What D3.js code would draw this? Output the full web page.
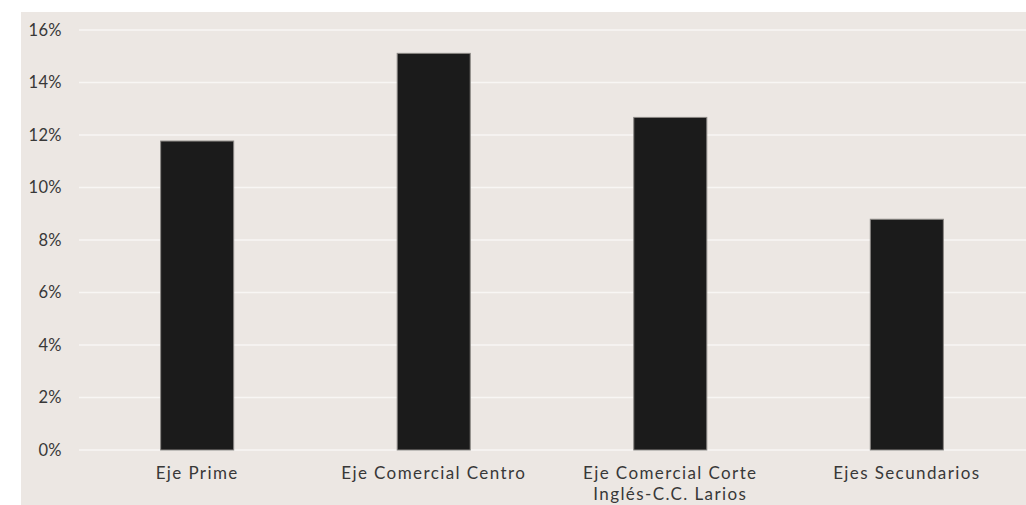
<!DOCTYPE html>
<meta charset="UTF-8">
<script src="https://cdn.jsdelivr.net/npm/d3@7"></script>
<style>
 body { margin:0; background:#fff; }
 #chart text { font-family:Lato, sans-serif; fill:#383838; }
 .grid line { stroke:#f8f6f4; stroke-width:1.5px; }
 .bar { fill:#1b1b1b; stroke:#8a8784; stroke-width:1px; }
</style>
<svg id="chart"></svg>
<script>
 // Datos
 var categorias = [["Eje Prime"], ["Eje Comercial Centro"], ["Eje Comercial Corte", "Inglés-C.C. Larios"], ["Ejes Secundarios"]];
 var valores = [0.1177, 0.1511, 0.1267, 0.0879];
 var ticks = [0, 0.02, 0.04, 0.06, 0.08, 0.10, 0.12, 0.14, 0.16];

 var width = 1026, height = 505;
 var m = {left:79, right:1, top:30, bottom:55};

 var svg = d3.select("#chart").attr("width", width).attr("height", height);

 // panel de fondo
 svg.append("rect").attr("x", 21).attr("y", 12)
    .attr("width", width-21).attr("height", height-12)
    .attr("fill", "#ece7e3");

 var x = d3.scaleBand()
	   .domain(d3.range(categorias.length))
	   .range([m.left, width-m.right])
	   .paddingInner(0.687).paddingOuter(0.343);
 var y = d3.scaleLinear().domain([0, 0.16]).range([height-m.bottom, m.top]);

 // líneas de cuadrícula
 svg.append("g").attr("class", "grid")
    .selectAll("line").data(ticks).enter().append("line")
    .attr("x1", m.left).attr("x2", width)
    .attr("y1", function (d){ return y(d); }).attr("y2", function (d){ return y(d); });

 // eje Y
 var yaxis = svg.append("g")
		.attr("transform", "translate(62,0)")
		.call(d3.axisLeft(y).tickValues(ticks).tickSize(0).tickPadding(0)
			.tickFormat(d3.format(".0%")));
 yaxis.select(".domain").remove();
 yaxis.selectAll("text").style("font-size", "16.5px").style("letter-spacing", "0.4px");

 // barras
 svg.selectAll(".bar").data(valores).enter().append("rect")
    .attr("class", "bar")
    .attr("x", function (d, i){ return x(i)+0.5; })
    .attr("width", x.bandwidth()-1)
    .attr("y", function (d){ return y(d); })
    .attr("height", function (d){ return y(0)-y(d); });

 // etiquetas X (una línea de texto por renglón)
 categorias.forEach(function (lineas, i) {
     svg.selectAll(null).data(lineas).enter().append("text")
	.attr("text-anchor", "middle")
	.attr("x", x(i)+x.bandwidth()/2)
	.attr("y", function (d, j){ return 479 + j*21; })
	.style("font-size", "17px")
	.style("letter-spacing", "1.4px")
	.text(function (d){ return d; });
 });
</script>
